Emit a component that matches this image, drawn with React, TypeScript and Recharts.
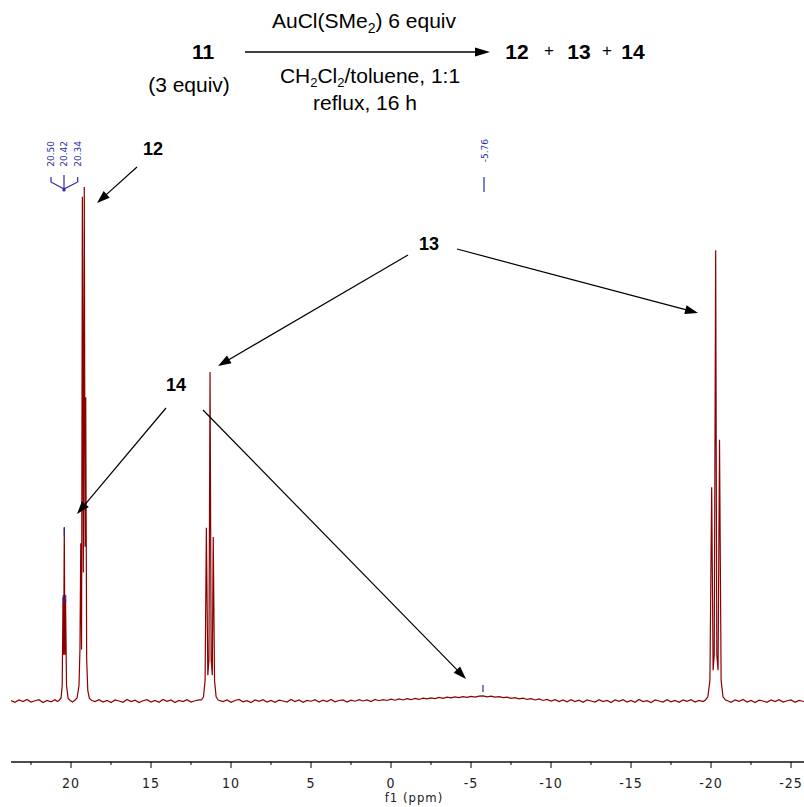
import React from 'react';
import { LineChart, Line, XAxis, YAxis } from 'recharts';

const W = 804;
const H = 807;

// chemical shift (ppm) / intensity (tallest line = 100)
const baselineLeft: [number, number][] = [
  [23.75, 0.1], [23.5, -0.25], [23.25, 0.2], [23.0, -0.1], [22.75, 0.3], [22.5, -0.2], [22.25, 0.05],
  [22.0, 0.25], [21.75, -0.3], [21.5, 0.1], [21.25, -0.15], [21.0, 0.25], [20.85, -0.1],
];
const peak14: [number, number][] = [
  [20.75, 0.1], [20.62, 0.6], [20.55, 3], [20.5, 20.2], [20.46, 9], [20.42, 33.7], [20.38, 9],
  [20.34, 19.6], [20.28, 3], [20.18, 0.5], [20.05, 0.1], [19.9, -0.2], [19.75, 0.2],
];
const peak12: [number, number][] = [
  [19.62, 0.6], [19.5, 3], [19.44, 10], [19.39, 30.7], [19.34, 10], [19.29, 98.1], [19.23, 25],
  [19.17, 100], [19.12, 30], [19.08, 59.1], [19.02, 8], [18.95, 2], [18.85, 0.5], [18.7, 0.1],
];
const baselineMid: [number, number][] = [
  [18.5, -0.1], [18.25, 0.25], [18.0, -0.2], [17.75, 0.1], [17.5, -0.3], [17.25, 0.2], [17.0, 0.0],
  [16.75, -0.25], [16.5, 0.3], [16.25, -0.1], [16.0, 0.15], [15.75, -0.3], [15.5, 0.05], [15.25, 0.25],
  [15.0, -0.2], [14.75, 0.1], [14.5, -0.25], [14.25, 0.3], [14.0, -0.05], [13.75, 0.2], [13.5, -0.3],
  [13.25, 0.1], [13.0, -0.1], [12.75, 0.25], [12.5, -0.2], [12.25, 0.05], [12.0, 0.2],
];
const peak13a: [number, number][] = [
  [11.85, 0.2], [11.72, 0.8], [11.62, 4], [11.54, 33.7], [11.45, 5], [11.38, 8], [11.31, 64],
  [11.24, 8], [11.17, 5], [11.11, 31.9], [11.03, 4], [10.93, 0.8], [10.8, 0.2],
];
const baselineCenter: [number, number][] = [
  [10.5, -0.1], [10.25, 0.2], [10.0, -0.25], [9.75, 0.1], [9.5, 0.3], [9.25, -0.15], [9.0, 0.05],
  [8.75, -0.3], [8.5, 0.2], [8.25, -0.05], [8.0, 0.25], [7.75, -0.2], [7.5, 0.1], [7.25, -0.25],
  [7.0, 0.15], [6.75, 0.0], [6.5, -0.2], [6.25, 0.3], [6.0, -0.1], [5.75, 0.2], [5.5, -0.25],
  [5.25, 0.1], [5.0, -0.05], [4.75, 0.25], [4.5, -0.2], [4.25, 0.15], [4.0, -0.1], [3.75, 0.3],
  [3.5, -0.15], [3.25, 0.1], [3.0, 0.2], [2.75, -0.2], [2.5, 0.15], [2.25, -0.05], [2.0, 0.25],
  [1.75, 0.0], [1.5, 0.2], [1.25, -0.1], [1.0, 0.3], [0.75, 0.05], [0.5, 0.25], [0.25, 0.1],
  [0.0, 0.35], [-0.25, 0.15], [-0.5, 0.4], [-0.75, 0.2], [-1.0, 0.45], [-1.25, 0.25], [-1.5, 0.5],
  [-1.75, 0.3], [-2.0, 0.55], [-2.25, 0.4], [-2.5, 0.6], [-2.75, 0.45], [-3.0, 0.7], [-3.25, 0.5],
  [-3.5, 0.75], [-3.75, 0.6], [-4.0, 0.8], [-4.25, 0.65], [-4.5, 0.85], [-4.75, 0.7], [-5.0, 0.9],
  [-5.25, 0.75], [-5.5, 0.95], [-5.76, 1.0], [-6.0, 0.8], [-6.25, 0.95], [-6.5, 0.75], [-6.75, 0.85],
  [-7.0, 0.65], [-7.25, 0.75], [-7.5, 0.5], [-7.75, 0.65], [-8.0, 0.4], [-8.25, 0.55], [-8.5, 0.3],
  [-8.75, 0.45], [-9.0, 0.2], [-9.25, 0.4], [-9.5, 0.1], [-9.75, 0.3], [-10.0, 0.0], [-10.25, 0.25],
  [-10.5, -0.1], [-10.75, 0.2], [-11.0, -0.15], [-11.25, 0.25], [-11.5, -0.1], [-11.75, 0.15],
  [-12.0, -0.25], [-12.25, 0.2], [-12.5, 0.0], [-12.75, -0.2], [-13.0, 0.25], [-13.25, -0.1],
  [-13.5, 0.1], [-13.75, -0.3], [-14.0, 0.2], [-14.25, -0.05], [-14.5, 0.25], [-14.75, -0.2],
  [-15.0, 0.1], [-15.25, -0.25], [-15.5, 0.3], [-15.75, -0.1], [-16.0, 0.05], [-16.25, -0.3],
  [-16.5, 0.2], [-16.75, 0.0], [-17.0, -0.2], [-17.25, 0.25], [-17.5, -0.15], [-17.75, 0.1],
  [-18.0, -0.25], [-18.25, 0.2], [-18.5, -0.05], [-18.75, 0.25], [-19.0, -0.2], [-19.25, 0.1],
  [-19.5, -0.1],
];
const peak13b: [number, number][] = [
  [-19.65, 0.2], [-19.8, 0.8], [-19.93, 4], [-20.04, 41.6], [-20.13, 6], [-20.2, 9], [-20.29, 87.7],
  [-20.36, 9], [-20.44, 6], [-20.53, 50.8], [-20.63, 4], [-20.75, 0.8], [-20.9, 0.2],
];
const baselineRight: [number, number][] = [
  [-21.0, 0.1], [-21.25, -0.25], [-21.5, 0.2], [-21.75, -0.05], [-22.0, 0.3], [-22.25, -0.2],
  [-22.5, 0.1], [-22.75, -0.3], [-23.0, 0.15], [-23.25, 0.0], [-23.5, -0.25], [-23.75, 0.2],
  [-24.0, -0.1], [-24.25, 0.25], [-24.5, -0.2], [-24.75, 0.05], [-25.0, 0.2], [-25.25, -0.25],
  [-25.5, 0.1], [-25.81, -0.1],
];

const xTicks = [22.5, 20, 17.5, 15, 12.5, 10, 7.5, 5, 2.5, 0, -2.5, -5, -7.5, -10, -12.5, -15, -17.5, -20, -22.5, -25];
const xDomain: [number, number] = [-25.81, 23.75];
const yDomain: [number, number] = [-11.87, 136.38];

const peakLabels14 = ['20.50', '20.42', '20.34'];
const peakLabelHump = '-5.76';

const data = [
  ...baselineLeft, ...peak14, ...peak12, ...baselineMid, ...peak13a,
  ...baselineCenter, ...peak13b, ...baselineRight,
]
  .map(([ppm, v]) => ({ ppm, v }))
  .sort((a, b) => b.ppm - a.ppm);

const axisFont = "'DejaVu Sans Condensed', 'Liberation Sans Narrow', 'DejaVu Sans', sans-serif";
const textFont = "'Liberation Sans', Arial, sans-serif";
const BLUE = '#2a2aa0';
const RED = '#8b0000';

const AxisTick = (props: any) => {
  const { x, y, payload } = props;
  const val = payload.value as number;
  const major = Math.abs(val % 5) < 1e-6;
  return (
    <g>
      <line x1={x} y1={y} x2={x} y2={y + (major ? 6 : 3)} stroke="#000" strokeWidth={1} />
      {major && (
        <text x={x} y={y + 26} textAnchor="middle" fontFamily={axisFont} fontSize={14}
          fontStretch="condensed" fill="#222" letterSpacing={1}>
          {val}
        </text>
      )}
    </g>
  );
};

const Arrow = ({ x1, y1, x2, y2, head = 12, hw = 4, sw = 1.2 }: any) => {
  const dx = x2 - x1;
  const dy = y2 - y1;
  const len = Math.sqrt(dx * dx + dy * dy);
  const ux = dx / len;
  const uy = dy / len;
  const bx = x2 - ux * head;
  const by = y2 - uy * head;
  const px = -uy * hw;
  const py = ux * hw;
  return (
    <g>
      <line x1={x1} y1={y1} x2={bx + ux * 2} y2={by + uy * 2} stroke="#000" strokeWidth={sw} />
      <polygon points={`${x2},${y2} ${bx + px},${by + py} ${bx - px},${by - py}`} fill="#000" />
    </g>
  );
};

const Overlay = () => (
  <svg width={W} height={H} style={{ position: 'absolute', left: 0, top: 0, pointerEvents: 'none' }}>
    {/* reaction scheme */}
    <g fontFamily={textFont} fill="#000">
      <text x={203} y={59} fontSize={21} fontWeight="bold" textAnchor="middle">11</text>
      <text x={189} y={92} fontSize={21} textAnchor="middle">(3 equiv)</text>
      <text x={364} y={28} fontSize={21} textAnchor="middle">
        AuCl(SMe<tspan fontSize={14} dy={5}>2</tspan><tspan dy={-5}>) 6 equiv</tspan>
      </text>
      <text x={370} y={83} fontSize={21} textAnchor="middle">
        CH<tspan fontSize={13} dy={4}>2</tspan><tspan dy={-4}>Cl</tspan><tspan fontSize={13} dy={4}>2</tspan><tspan dy={-4}>/toluene, 1:1</tspan>
      </text>
      <text x={365} y={110} fontSize={21} textAnchor="middle">reflux, 16 h</text>
      <text x={517} y={59} fontSize={21} fontWeight="bold" textAnchor="middle">12</text>
      <text x={549} y={56} fontSize={17} textAnchor="middle">+</text>
      <text x={579} y={59} fontSize={21} fontWeight="bold" textAnchor="middle">13</text>
      <text x={607} y={56} fontSize={17} textAnchor="middle">+</text>
      <text x={633} y={59} fontSize={21} fontWeight="bold" textAnchor="middle">14</text>
    </g>
    <Arrow x1={245} y1={52} x2={490} y2={52} head={15} hw={4.5} sw={1.3} />

    {/* compound labels and arrows */}
    <g fontFamily={textFont} fontWeight="bold" fontSize={18} fill="#000" textAnchor="middle">
      <text x={153} y={155}>12</text>
      <text x={429} y={250}>13</text>
      <text x={176} y={391}>14</text>
    </g>
    <Arrow x1={137} y1={167} x2={97} y2={203} head={13} hw={4.5} />
    <Arrow x1={408} y1={255} x2={218} y2={366} head={13} hw={4.5} />
    <Arrow x1={457} y1={249} x2={698} y2={313} head={13} hw={4.5} />
    <Arrow x1={166} y1={408} x2={77} y2={514} head={13} hw={4.5} />
    <Arrow x1={203} y1={410} x2={466} y2={679} head={13} hw={4.5} />

    {/* peak picking labels */}
    <g fontFamily="'DejaVu Sans', sans-serif" fontSize={9} fill={BLUE}>
      {peakLabels14.map((t, i) => {
        const x = [51, 64.3, 77.7][i] + 3;
        return (
          <text key={t} x={x} y={141} transform={`rotate(-90 ${x} 141)`} textAnchor="end">{t}</text>
        );
      })}
      <text x={488} y={139} transform="rotate(-90 488 139)" textAnchor="end">{peakLabelHump}</text>
    </g>
    <g stroke={BLUE} strokeWidth={1.2} fill="none">
      <polyline points="51,177 51,182 64,189 77.7,182 77.7,177" />
      <line x1={64} y1={175} x2={64} y2={190} />
      <line x1={484} y1={177} x2={484} y2={192} />
      <line x1={64.3} y1={527} x2={64.3} y2={536} />
      <line x1={63.3} y1={595} x2={63.3} y2={602} />
      <line x1={65.7} y1={595} x2={65.7} y2={602} />
      <line x1={483} y1={685} x2={483} y2={692} />
    </g>
    <circle cx={64} cy={190} r={1.6} fill={BLUE} />

    <text x={414} y={802} textAnchor="middle" fontFamily={axisFont} fontSize={13}
      fontStretch="condensed" fill="#222" letterSpacing={1}>f1 (ppm)</text>
  </svg>
);

export default function App() {
  return (
    <div style={{ position: 'absolute', left: 0, top: 0, width: W, height: H, background: '#fff' }}>
      <LineChart width={W} height={H} data={data} margin={{ top: 0, right: 0, bottom: 0, left: 11 }}>
        <XAxis
          dataKey="ppm"
          type="number"
          domain={xDomain}
          reversed
          allowDataOverflow
          ticks={xTicks}
          interval={0}
          height={45}
          tickSize={0}
          tickMargin={0}
          tickLine={false}
          tick={<AxisTick />}
          axisLine={{ stroke: '#111', strokeWidth: 1.6 }}
        />
        <YAxis hide domain={yDomain} allowDataOverflow type="number" />
        <Line
          type="linear"
          dataKey="v"
          stroke={RED}
          strokeWidth={1.2}
          dot={false}
          isAnimationActive={false}
        />
      </LineChart>
      <Overlay />
    </div>
  );
}
